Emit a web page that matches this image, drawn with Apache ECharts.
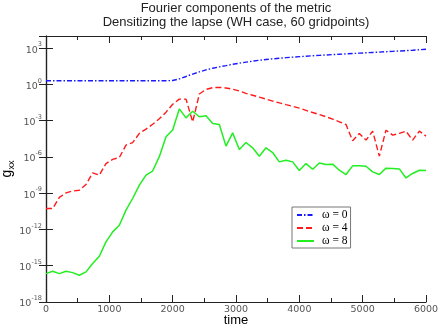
<!DOCTYPE html>
<html>
<head>
<meta charset="utf-8">
<script src="https://cdn.jsdelivr.net/npm/echarts@6/dist/echarts.min.js"></script>
<style>
html, body { margin: 0; padding: 0; background: #fff; }
#chart { width: 439px; height: 327px; }
</style>
</head>
<body>
<div id="chart"></div>
<script>
// output times (about every 105 time units)
var times = [0, 105, 211, 316, 421, 526, 632, 737, 842, 947, 1053, 1158, 1263, 1368, 1474, 1579, 1684, 1789, 1895, 2000,
  2105, 2211, 2316, 2421, 2526, 2632, 2737, 2842, 2947, 3053, 3158, 3263, 3368, 3474, 3579, 3684, 3789, 3895, 4000,
  4105, 4211, 4316, 4421, 4526, 4632, 4737, 4842, 4947, 5053, 5158, 5263, 5368, 5474, 5579, 5684, 5789, 5895, 6000];

// log10 of g_xx for each Fourier mode
var omega0Log = [0.30, 0.30, 0.30, 0.30, 0.30, 0.30, 0.30, 0.30, 0.30, 0.30, 0.30, 0.30, 0.30, 0.30, 0.30, 0.30, 0.30, 0.30, 0.30, 0.32,
  0.45, 0.65, 0.85, 1.03, 1.20, 1.33, 1.45, 1.55, 1.66, 1.75, 1.84, 1.92, 1.99, 2.06, 2.11, 2.16, 2.21, 2.25, 2.29,
  2.33, 2.37, 2.40, 2.43, 2.46, 2.49, 2.52, 2.55, 2.58, 2.61, 2.64, 2.67, 2.70, 2.73, 2.76, 2.79, 2.82, 2.86, 2.90];
var omega4Log = [-10.27, -10.27, -9.35, -8.98, -8.82, -8.76, -8.28, -7.32, -7.51, -6.55, -6.21, -6.05, -5.02, -4.82, -4.05, -3.70, -3.30, -2.85, -2.30, -1.65,
  -1.22, -1.22, -3.10, -0.80, -0.42, -0.27, -0.25, -0.30, -0.40, -0.55, -0.74, -0.90, -1.06, -1.22, -1.38, -1.53, -1.68, -1.82, -1.97,
  -2.15, -2.33, -2.50, -2.68, -2.88, -3.10, -3.32, -4.67, -4.06, -4.61, -3.87, -5.94, -3.79, -4.20, -4.05, -3.87, -4.61, -3.87, -4.28];
var omega8Log = [-15.65, -15.46, -15.65, -15.46, -15.57, -15.79, -15.51, -14.82, -14.22, -13.03, -12.20, -11.65, -10.40, -9.44, -8.33, -7.50, -7.17, -5.98, -4.33, -3.77,
  -2.03, -2.77, -2.22, -2.68, -2.60, -3.23, -3.32, -5.11, -4.01, -5.39, -4.81, -5.25, -5.94, -5.25, -5.64, -6.41, -6.27, -6.41, -7.13,
  -6.55, -7.02, -6.50, -6.63, -6.60, -7.10, -7.46, -6.74, -6.74, -6.77, -7.24, -7.46, -6.93, -6.95, -6.99, -7.74, -7.37, -7.10, -7.13];

var seriesNames = ['\u03c9 = 0', '\u03c9 = 4', '\u03c9 = 8'];

function toPairs(logs) {
  return times.map(function (t, i) { return [t, Math.pow(10, logs[i])]; });
}

var chart = echarts.init(document.getElementById('chart'), null, { renderer: 'canvas' });

var tickFont = { fontFamily: 'DejaVu Sans', fontSize: 9.5, color: '#555' };
var axisLine = { show: true, lineStyle: { color: '#222', width: 1.2 } };

var option = {
  animation: false,
  backgroundColor: '#fff',
  graphic: [{
    type: 'text',
    x: 236,
    y: 1,
    style: {
      text: 'Fourier components of the metric\nDensitizing the lapse (WH case, 60 gridpoints)',
      textAlign: 'center',
      fontFamily: 'Liberation Sans',
      fontSize: 13,
      lineHeight: 14,
      fill: '#222'
    }
  }],
  grid: { left: 46, right: 13, top: 36, bottom: 25, outerBoundsMode: 'none', containLabel: false },
  legend: {
    orient: 'vertical',
    left: 292,
    top: 207,
    data: seriesNames,
    itemWidth: 17,
    itemHeight: 10,
    itemGap: 1,
    padding: [2, 3, 1, 4],
    borderColor: '#777',
    borderWidth: 1,
    backgroundColor: '#fff',
    itemStyle: { opacity: 0 },
    textStyle: { fontFamily: 'Liberation Serif', fontSize: 11.5, color: '#000', lineHeight: 11, padding: [0, 0, 0, 3] }
  },
  xAxis: [{
    type: 'value',
    position: 'bottom',
    min: 0,
    max: 6000,
    interval: 1000,
    name: 'time',
    nameLocation: 'middle',
    nameMoveOverlap: false,
    nameGap: 12,
    nameTextStyle: { fontFamily: 'Liberation Sans', fontSize: 13, color: '#000' },
    axisLine: axisLine,
    axisTick: { inside: true, length: 7, lineStyle: { color: '#222' } },
    minorTick: { show: true, splitNumber: 2, length: 4, lineStyle: { color: '#222' } },
    axisLabel: Object.assign({ margin: 3, formatter: function (v) { return String(v); } }, tickFont),
    splitLine: { show: false }
  }, {
    type: 'value',
    position: 'top',
    min: 0,
    max: 6000,
    interval: 1000,
    axisLine: axisLine,
    axisTick: { inside: true, length: 7, lineStyle: { color: '#222' } },
    minorTick: { show: true, splitNumber: 2, length: 4, lineStyle: { color: '#222' } },
    axisLabel: { show: false },
    splitLine: { show: false }
  }],
  yAxis: [{
    type: 'log',
    logBase: 10,
    position: 'left',
    min: 1e-18,
    max: 1e4,
    interval: 3,
    name: '{g|g}{s|xx}',
    nameLocation: 'middle',
    nameMoveOverlap: false,
    nameGap: 30,
    nameRotate: 90,
    nameTextStyle: {
      rich: {
        g: { fontFamily: 'Liberation Sans', fontSize: 14, color: '#000', lineHeight: 18, verticalAlign: 'middle' },
        s: { fontFamily: 'Liberation Sans', fontSize: 9, color: '#000', lineHeight: 18, verticalAlign: 'bottom', padding: [6, 0, 0, 0] }
      }
    },
    axisLine: axisLine,
    axisTick: { inside: true, length: 7, lineStyle: { color: '#222' } },
    axisLabel: {
      margin: 4,
      formatter: function (v) {
        var e = Math.round(Math.log10(v));
        return '{b|10}{e|' + e + '}';
      },
      rich: {
        b: { fontFamily: 'DejaVu Sans', fontSize: 9.5, color: '#555', lineHeight: 14, verticalAlign: 'bottom' },
        e: { fontFamily: 'DejaVu Sans', fontSize: 6.5, color: '#555', lineHeight: 14, verticalAlign: 'top' }
      }
    },
    splitLine: { show: false }
  }, {
    type: 'log',
    logBase: 10,
    position: 'right',
    min: 1e-18,
    max: 1e4,
    interval: 3,
    axisLine: axisLine,
    axisTick: { inside: true, length: 7, lineStyle: { color: '#222' } },
    axisLabel: { show: false },
    splitLine: { show: false }
  }],
  series: [{
    name: seriesNames[0],
    type: 'line',
    showSymbol: false,
    symbol: 'none',
    lineStyle: { color: '#1a1aff', width: 1.4, type: [5, 2, 1.5, 2] },
    itemStyle: { color: '#1a1aff' },
    data: toPairs(omega0Log)
  }, {
    name: seriesNames[1],
    type: 'line',
    showSymbol: false,
    symbol: 'none',
    lineStyle: { color: '#ff1a1a', width: 1.4, type: [6, 3] },
    itemStyle: { color: '#ff1a1a' },
    data: toPairs(omega4Log)
  }, {
    name: seriesNames[2],
    type: 'line',
    showSymbol: false,
    symbol: 'none',
    lineStyle: { color: '#22ee22', width: 1.5 },
    itemStyle: { color: '#22ee22' },
    data: toPairs(omega8Log)
  }]
};

chart.setOption(option);
</script>
</body>
</html>
